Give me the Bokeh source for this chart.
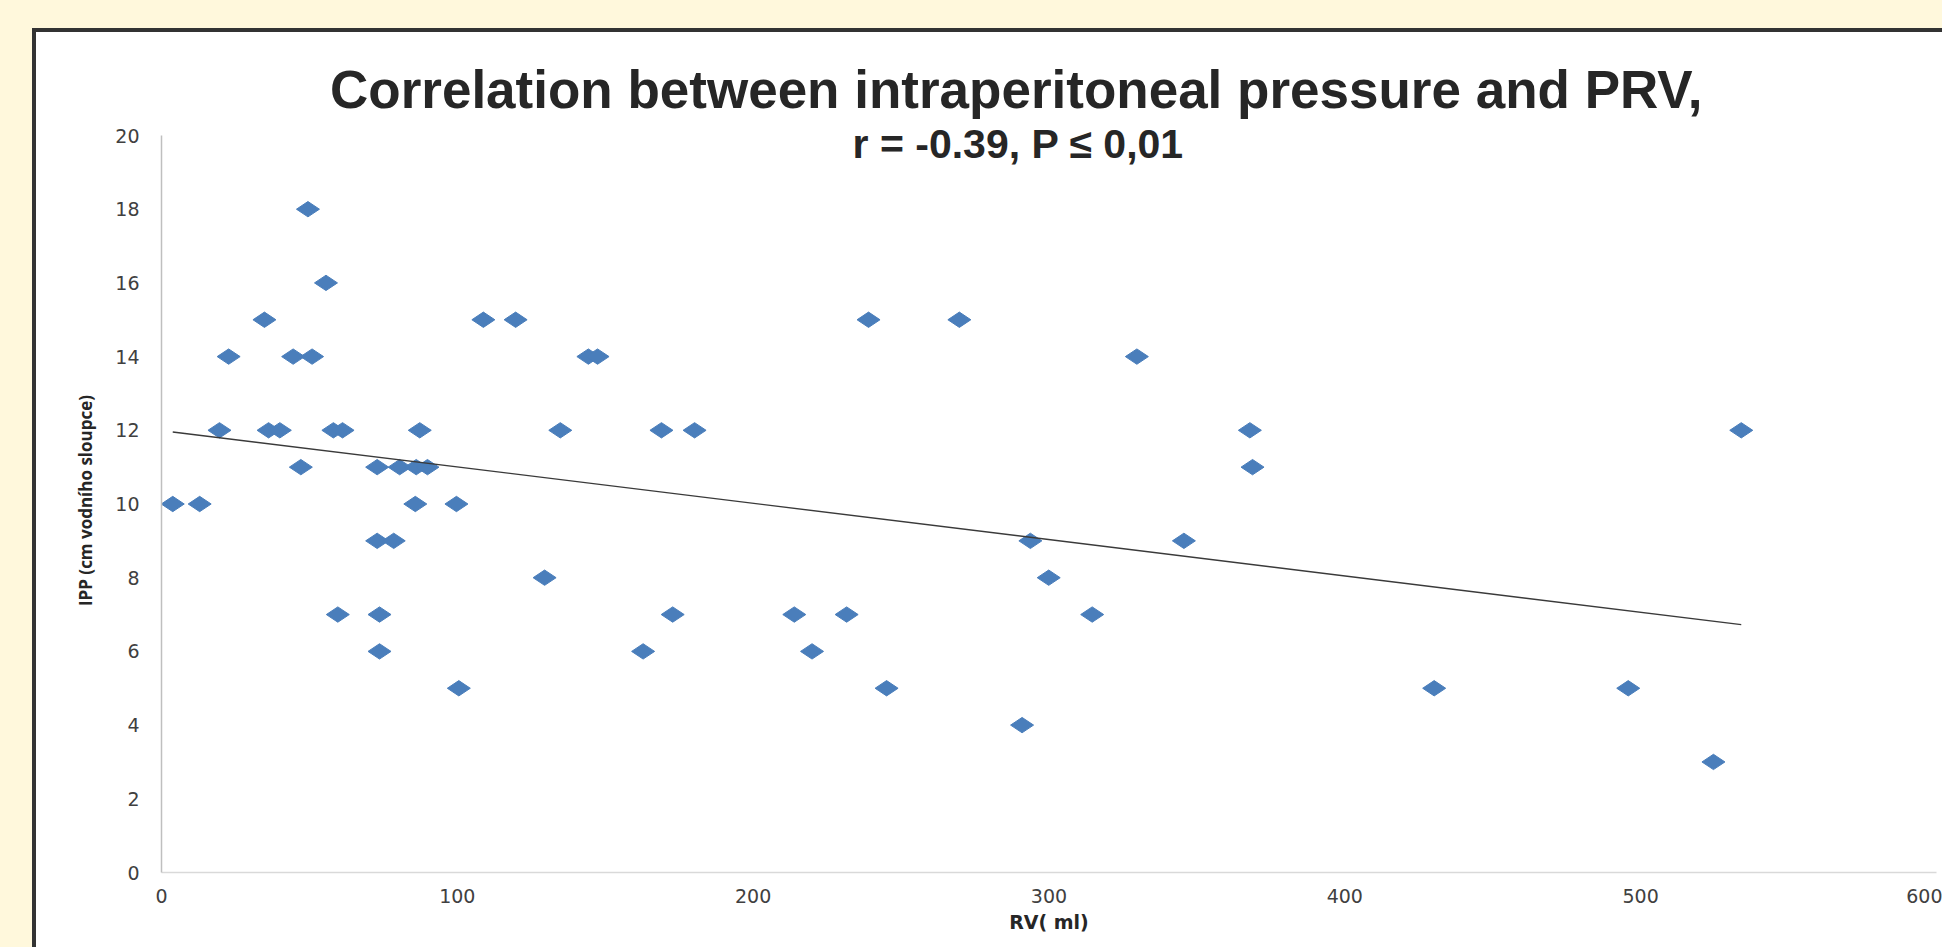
import numpy as np
from bokeh.plotting import figure
from bokeh.models import Label, Range1d, FixedTicker
from bokeh.embed import file_html
from bokeh.resources import INLINE

# ---- data ----
rv_ml = [3.8, 12.9, 19.6, 22.7, 34.8, 36.2, 40.0, 44.5, 47.1, 49.5,
         50.9, 55.6, 58.1, 61.2, 59.6, 72.9, 72.9, 73.7, 73.7, 78.5,
         80.5, 86.1, 85.8, 87.3, 89.9, 99.7, 100.5, 108.8, 119.7, 129.5,
         134.8, 144.3, 147.4, 162.8, 169.0, 172.8, 180.2, 213.9, 219.9, 231.6,
         239.0, 245.1, 269.7, 290.9, 293.7, 299.9, 314.6, 329.7, 345.6, 367.9,
         368.8, 430.2, 495.8, 524.6, 534.0]
ipp_cm = [10, 10, 12, 14, 15, 12, 12, 14, 11, 18,
          14, 16, 12, 12, 7, 11, 9, 7, 6, 9,
          11, 11, 10, 12, 11, 10, 5, 15, 15, 8,
          12, 14, 14, 6, 12, 7, 12, 7, 6, 7,
          15, 5, 15, 4, 9, 8, 7, 14, 9, 12,
          11, 5, 5, 3, 12]
x_ticks = [0, 100, 200, 300, 400, 500, 600]
y_ticks = [0, 2, 4, 6, 8, 10, 12, 14, 16, 18, 20]

title_text = "Correlation between intraperitoneal pressure and PRV,"
subtitle_text = "r = -0.39, P \u2264 0,01"
x_label = "RV( ml)"
y_label = "IPP (cm vodn\u00edho sloupce)"

# linear trend (least squares), drawn from min to max RV
slope, intercept = np.polyfit(rv_ml, ipp_cm, 1)
trend_x = [min(rv_ml), max(rv_ml)]
trend_y = [slope * v + intercept for v in trend_x]

CREAM = "#FFF8DC"
BLUE = "#4A7EBB"

# white chart panel, framed on top/left, sitting on a cream page
p = figure(width=1906, height=915,
           x_range=Range1d(0, 600), y_range=Range1d(0, 20.19),
           output_backend="svg", toolbar_location=None,
           min_border_left=125, min_border_right=10,
           min_border_top=96, min_border_bottom=79,
           border_fill_color="white", background_fill_color="white",
           outline_line_color=None,
           styles={"position": "absolute", "left": "32px", "top": "28px",
                   "box-sizing": "content-box",
                   "border-left": "4px solid #333333",
                   "border-top": "4px solid #333333",
                   "box-shadow": "0 0 0 60px " + CREAM})
p.grid.visible = False

# main title
p.title.text = title_text
p.title.align = "left"
p.title.offset = 168.5
p.title.standoff = 20
p.title.text_font = "Liberation Sans"
p.title.text_font_size = "53px"
p.title.text_font_style = "bold"
p.title.text_color = "#262626"

# axes
p.xaxis.ticker = FixedTicker(ticks=x_ticks)
p.yaxis.ticker = FixedTicker(ticks=y_ticks)
p.yaxis.bounds = (0, 20)
for ax in (p.xaxis, p.yaxis):
    ax.major_tick_line_color = None
    ax.minor_tick_line_color = None
    ax.major_tick_out = 0
    ax.major_label_text_font = "DejaVu Sans"
    ax.major_label_text_font_size = "19px"
    ax.major_label_text_color = "#404040"
    ax.axis_line_width = 1.5

p.xaxis.axis_line_color = "#D9D9D9"
p.yaxis.axis_line_color = "#BFBFBF"
p.xaxis.major_label_standoff = 16
p.yaxis.major_label_standoff = 22

p.xaxis.axis_label = x_label
p.xaxis.axis_label_text_font = "DejaVu Sans"
p.xaxis.axis_label_text_font_size = "19px"
p.xaxis.axis_label_text_font_style = "bold"
p.xaxis.axis_label_text_color = "#262626"
p.xaxis.axis_label_standoff = 5

p.yaxis.axis_label = y_label
p.yaxis.axis_label_text_font = "Open Sans"
p.yaxis.axis_label_text_font_size = "17px"
p.yaxis.axis_label_text_font_style = "bold"
p.yaxis.axis_label_text_color = "#262626"
p.yaxis.axis_label_standoff = 15

# points
p.scatter(rv_ml, ipp_cm, marker="diamond", size=23, angle=np.pi / 2,
          fill_color=BLUE, line_color=BLUE, line_width=1)

# trend line
p.line(trend_x, trend_y, line_color="#3A3A3A", line_width=1.4)

# subtitle
p.add_layout(Label(x=289.6, y=19.76, text=subtitle_text,
                   text_align="center", text_baseline="alphabetic",
                   text_font="Liberation Sans", text_font_size="41px",
                   text_font_style="bold", text_color="#262626"))

open("out.html", "w").write(file_html(p, INLINE))
